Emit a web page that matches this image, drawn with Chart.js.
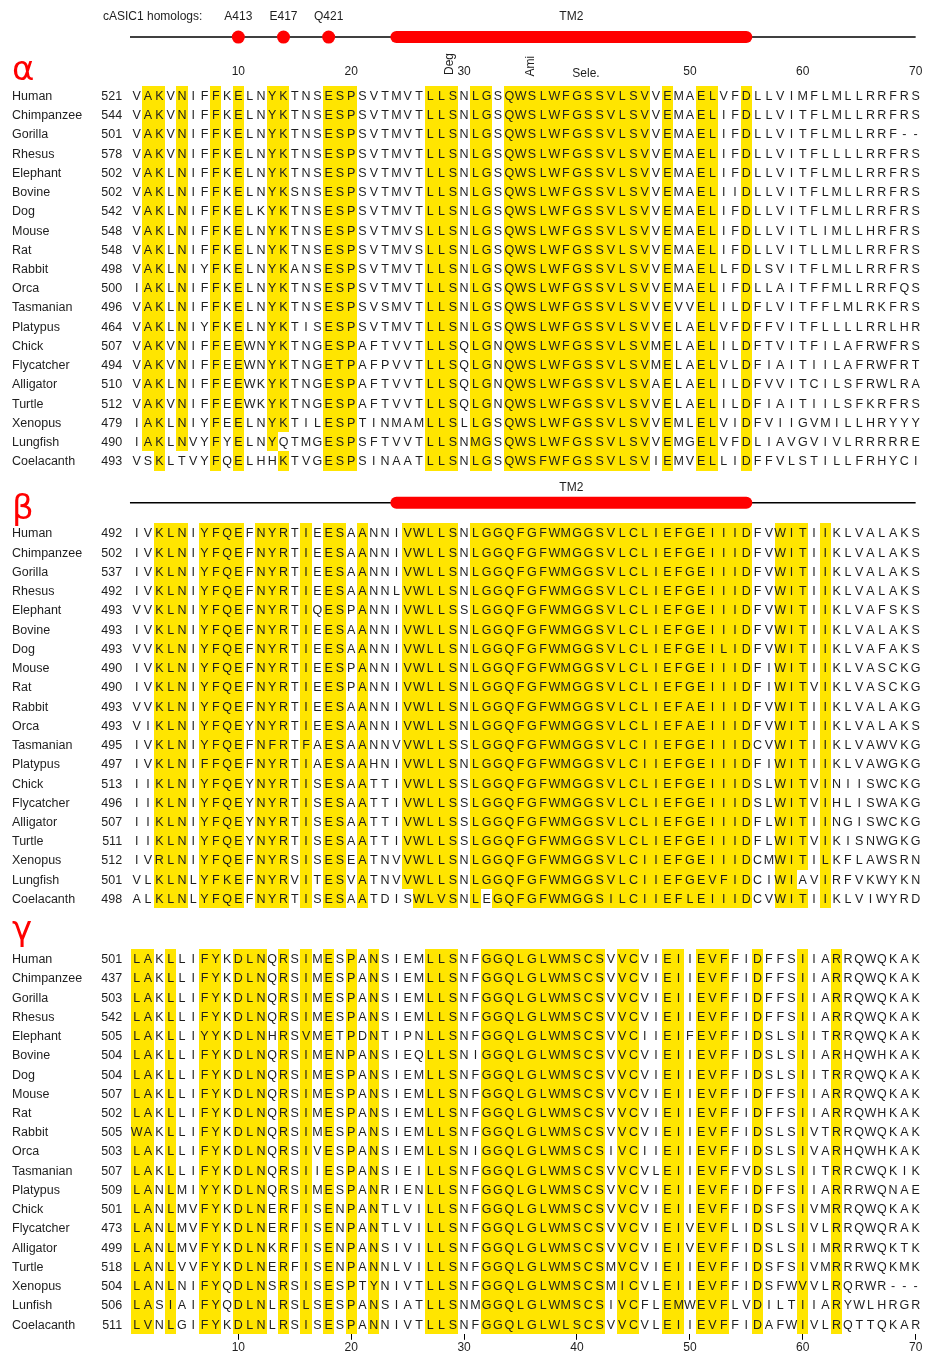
<!DOCTYPE html>
<html>
<head>
<meta charset="utf-8">
<title>ASIC TM2 alignment</title>
<script src="https://cdn.jsdelivr.net/npm/chart.js@4.4.1/dist/chart.umd.min.js"></script>
<style>
html,body{margin:0;padding:0;background:#fff;}
canvas{display:block;}
</style>
</head>
<body>
<canvas id="aln" width="925" height="1355"></canvas>
<script>
// species order is the same in all three blocks (gamma keeps the "Lunfish" spelling of the original)
const speciesAB = ['Human','Chimpanzee','Gorilla','Rhesus','Elephant','Bovine','Dog','Mouse','Rat','Rabbit',
  'Orca','Tasmanian','Platypus','Chick','Flycatcher','Alligator','Turtle','Xenopus','Lungfish','Coelacanth'];
const speciesG = ['Human','Chimpanzee','Gorilla','Rhesus','Elephant','Bovine','Dog','Mouse','Rat','Rabbit',
  'Orca','Tasmanian','Platypus','Chick','Flycatcher','Alligator','Turtle','Xenopus','Lunfish','Coelacanth'];

const alphaStart = [521,544,501,578,502,502,542,548,548,498,500,496,464,507,494,510,512,479,490,493];
const betaStart  = [492,502,537,492,493,493,493,490,490,493,493,495,497,513,496,507,511,512,501,498];
const gammaStart = [501,437,503,542,505,504,504,507,502,505,503,507,509,501,473,499,518,504,506,511];

const alphaSeq = [
  'VAKVNIFFKELNYKTNSESPSVTMVTLLSNLGSQWSLWFGSSVLSVVEMAELVFDLLVIMFLMLLRRFRS',
  'VAKVNIFFKELNYKTNSESPSVTMVTLLSNLGSQWSLWFGSSVLSVVEMAELIFDLLVITFLMLLRRFRS',
  'VAKVNIFFKELNYKTNSESPSVTMVTLLSNLGSQWSLWFGSSVLSVVEMAELIFDLLVITFLMLLRRF--',
  'VAKVNIFFKELNYKTNSESPSVTMVTLLSNLGSQWSLWFGSSVLSVVEMAELIFDLLVITFLLLLRRFRS',
  'VAKLNIFFKELNYKTNSESPSVTMVTLLSNLGSQWSLWFGSSVLSVVEMAELIFDLLVITFLMLLRRFRS',
  'VAKLNIFFKELNYKSNSESPSVTMVTLLSNLGSQWSLWFGSSVLSVVEMAELIIDLLVITFLMLLRRFRS',
  'VAKLNIFFKELKYKTNSESPSVTMVTLLSNLGSQWSLWFGSSVLSVVEMAELIFDLLVITFLMLLRRFRS',
  'VAKLNIFFKELNYKTNSESPSVTMVSLLSNLGSQWSLWFGSSVLSVVEMAELIFDLLVITLIMLLHRFRS',
  'VAKLNIFFKELNYKTNSESPSVTMVSLLSNLGSQWSLWFGSSVLSVVEMAELIFDLLVITLLMLLRRFRS',
  'VAKLNIYFKELNYKANSESPSVTMVTLLSNLGSQWSLWFGSSVLSVVEMAELLFDLSVITFLMLLRRFRS',
  'IAKLNIFFKELNYKTNSESPSVTMVTLLSNLGSQWSLWFGSSVLSVVEMAELIFDLLAITFFMLLRRFQS',
  'VAKLNIFFKELNYKTNSESPSVSMVTLLSNLGSQWSLWFGSSVLSVVEVVELILDFLVITFFLMLRKFRS',
  'VAKLNIYFKELNYKTISESPSVTMVTLLSNLGSQWSLWFGSSVLSVVELAELVFDFFVITFLLLLRRLHR',
  'VAKVNIFFEEWNYKTNGESPAFTVVTLLSQLGNQWSLWFGSSVLSVMELAELILDFTVITFILAFRWFRS',
  'VAKVNIFFEEWNYKTNGETPAFPVVTLLSQLGNQWSLWFGSSVLSVMELAELVLDFIAITIILAFRWFRT',
  'VAKLNIFFEEWKYKTNGESPAFTVVTLLSQLGNQWSLWFGSSVLSVAELAELILDFVVITCILSFRWLRA',
  'VAKVNIFFEEWKYKTNGESPAFTVVTLLSQLGNQWSLWFGSSVLSVVELAELILDFIAITIILSFKRFRS',
  'IAKLNIYFEELNYKTILESPTINMAMLLSLLGSQWSLWFGSSVLSVVEMLELVIDFVIIGVMILLHRYYY',
  'IAKLNVYFYELNYQTMGESPSFTVVTLLSNMGSQWSLWFGSSVLSVVEMGELVFDLIAVGVIVLRRRRRE',
  'VSKLTVYFQELHHKTVGESPSINAATLLSNLGSQWSFWFGSSVLSVIEMVELLIDFFVLSTILLFRHYCI'
];

const betaSeq = [
  'IVKLNIYFQEFNYRTIEESAANNIVWLLSNLGGQFGFWMGGSVLCLIEFGEIIIDFVWITIIKLVALAKS',
  'IVKLNIYFQEFNYRTIEESAANNIVWLLSNLGGQFGFWMGGSVLCLIEFGEIIIDFVWITIIKLVALAKS',
  'IVKLNIYFQEFNYRTIEESAANNIVWLLSNLGGQFGFWMGGSVLCLIEFGEIIIDFVWITIIKLVALAKS',
  'IVKLNIYFQEFNYRTIEESAANNLVWLLSNLGGQFGFWMGGSVLCLIEFGEIIIDFVWITIIKLVALAKS',
  'VVKLNIYFQEFNYRTIQESPANNIVWLLSSLGGQFGFWMGGSVLCLIEFGEIIIDFVWITIIKLVAFSKS',
  'IVKLNIYFQEFNYRTIEESAANNIVWLLSNLGGQFGFWMGGSVLCLIEFGEIIIDFVWITIIKLVALAKS',
  'VVKLNIYFQEFNYRTIEESAANNIVWLLSNLGGQFGFWMGGSVLCLIEFGEILIDFVWITIIKLVAFAKS',
  'IVKLNIYFQEFNYRTIEESPANNIVWLLSNLGGQFGFWMGGSVLCLIEFGEIIIDFIWITIIKLVASCKG',
  'IVKLNIYFQEFNYRTIEESPANNIVWLLSNLGGQFGFWMGGSVLCLIEFGEIIIDFIWITVIKLVASCKG',
  'VVKLNIYFQEFNYRTIEESAANNIVWLLSNLGGQFGFWMGGSVLCLIEFAEIIIDFVWITIIKLVALAKG',
  'VIKLNIYFQEYNYRTIEESAANNIVWLLSNLGGQFGFWMGGSVLCLIEFAEIIIDFVWITIIKLVALAKS',
  'IVKLNIYFQEFNFRTFAESAANNVVWLLSSLGGQFGFWMGGSVLCIIEFGEIIIDCVWITIIKLVAWVKG',
  'IVKLNIFFQEFNYRTIAESAAHNIVWLLSNLGGQFGFWMGGSVLCIIEFGEIIIDFIWITIIKLVAWGKG',
  'IIKLNIYFQEYNYRTISESAATTIVWLLSSLGGQFGFWMGGSVLCLIEFGEIIIDSLWITVINIISWCKG',
  'IIKLNIYFQEYNYRTISESAATTIVWLLSSLGGQFGFWMGGSVLCLIEFGEIIIDSLWITVIHLISWAKG',
  'IIKLNIYFQEYNYRTISESAATTIVWLLSSLGGQFGFWMGGSVLCLIEFGEIIIDFLWITIINGISWCKG',
  'IIKLNIYFQEYNYRTISESAATTIVWLLSSLGGQFGFWMGGSVLCLIEFGEIIIDFLWITVIKISNWGKG',
  'IVRLNIYFQEFNYRSISESEATNVVWLLSNLGGQFGFWMGGSVLCIIEFGEIIIDCMWITILKFLAWSRN',
  'VLKLNLYFKEFNYRVITESVATNVVWLLSNLGGQFGFWMGGSVLCIIEFGEVFIDCIWIAVIRFVKWYKN',
  'ALKLNLYFQEFNYRTISESAATDISWLVSNLEGQFGFWMGGSILCIIEFLEIIIDCVWITIIKLVIWYRD'
];

const gammaSeq = [
  'LAKLLIFYKDLNQRSIMESPANSIEMLLSNFGGQLGLWMSCSVVCVIEIIEVFFIDFFSIIARRQWQKAK',
  'LAKLLIFYKDLNQRSIMESPANSIEMLLSNFGGQLGLWMSCSVVCVIEIIEVFFIDFFSIIARRQWQKAK',
  'LAKLLIFYKDLNQRSIMESPANSIEMLLSNFGGQLGLWMSCSVVCVIEIIEVFFIDFFSIIARRQWQKAK',
  'LAKLLIFYKDLNQRSIMESPANSIEMLLSNFGGQLGLWMSCSVVCVIEIIEVFFIDFFSIIARRQWQKAK',
  'LAKLLIYYKDLNHRSVMETPDNTIPNLLSNFGGQLGLWMSCSVVCIIEIFEVFFIDSLSIITRRQWQKAK',
  'LAKLLIFYKDLNQRSIMENPANSIEQLLSNIGGQLGLWMSCSVVCVIEIIEVFFIDSLSIIARHQWHKAK',
  'LAKLLIFYKDLNQRSIMESPANSIEMLLSNFGGQLGLWMSCSVVCVIEIIEVFFIDSLSIITRRQWQKAK',
  'LAKLLIFYKDLNQRSIMESPANSIEMLLSNFGGQLGLWMSCSVVCVIEIIEVFFIDFFSIIARRQWQKAK',
  'LAKLLIFYKDLNQRSIMESPANSIEMLLSNFGGQLGLWMSCSVVCVIEIIEVFFIDFFSIIARRQWHKAK',
  'WAKLLIFYKDLNQRSIMESPANSIEMLLSNFGGQLGLWMSCSVVCVIEIIEVFFIDSLSIVTRRQWQKAK',
  'LAKLLIFYKDLNQRSIVESPANSIEMLLSNIGGQLGLWMSCSIVCIIEIIEVFFIDSLSIVARHQWHKAK',
  'LAKLLIFYKDLNQRSIIESPANSIEILLSNFGGQLGLWMSCSVVCVLEIIEVFFVDSLSIITRRCWQKIK',
  'LANLMIYYKDLNQRSIMESPANRIENLLSNFGGQLGLWMSCSVVCVIEIIEVFFIDFFSIIARRRWQNAE',
  'LANLMVFYKDLNERFISENPANTLVILLSNFGGQLGLWMSCSVVCVIEIIEVFFIDSFSIVMRRQWQKAK',
  'LANLMVFYKDLNERFISENPANTLVILLSNFGGQLGLWMSCSVVCVIEIVEVFLIDSLSIVLRRQWQRAK',
  'LANLMVFYKDLNKRFISENPANSIVILLSNFGGQLGLWMSCSVVCVIEIVEVFFIDSLSIIMRRRWQKTK',
  'LANLVVFYKDLNERFISENPANNLVILLSNFGGQLGLWMSCSMVCVIEIIEVFFIDSFSIVMRRRWQKMK',
  'LANLNIFYQDLNSRSISESPTYNIVTLLSNFGGQLGLWMSCSMICVLEIIEVFFIDSFWVVLRQRWR---',
  'LASIAIFYQDLNLRSLSESPANSIATLLSNMGGQLGLWMSCSIVCFLEMWEVFLVDILTIIARYWLHRGR',
  'LVNLGIFYKDLNLRSISESPANNIVTLLSNFGGQLGLWLSCSVVCVLEIIEVFFIDAFWIVLRQTTQKAR'
];

// shaded (conserved) columns, and cells inside them that stay white [row, column]
const alphaCols = [2,3,5,8,10,13,14,18,19,20,27,28,29,31,32,34,35,36,37,38,39,40,41,42,43,44,45,46,48,51,52,55];
const betaCols  = [3,4,5,7,8,9,10,12,13,14,16,18,19,21,25,26,27,28,29,31,32,33,34,35,36,37,38,39,40,41,42,43,
  44,45,46,47,48,49,50,51,52,53,54,55,58,59,60,62];
const gammaCols = [1,2,4,7,8,10,11,12,14,16,18,20,22,27,28,29,32,33,34,35,36,37,38,39,40,41,42,44,45,48,49,
  51,52,53,56,60,63];
const alphaWhite = [[19,2],[19,5],[19,13],[18,14]];
const betaWhite  = [[19,25],[19,32],[18,60]];
const gammaWhite = [];

// position ruler and cASIC1 annotations
const tickLabels = [10,20,30,40,50,60,70];
const topTicks   = [10,20,30,50,60,70];
const siteNames  = ['A413','E417','Q421'];
const siteCols   = [10,14,18];
const tm2Cols    = [24,55];

const panels = [
  {sym:'α', names:speciesAB, start:alphaStart, seq:alphaSeq, cols:alphaCols, white:alphaWhite, top:0,     symY:-0.31},
  {sym:'β', names:speciesAB, start:betaStart,  seq:betaSeq,  cols:betaCols,  white:betaWhite,  top:22.75, symY:-0.25},
  {sym:'γ', names:speciesG,  start:gammaStart, seq:gammaSeq, cols:gammaCols, white:gammaWhite, top:44.88, symY:-0.46}
];

const FONT = "'Liberation Sans', Arial, sans-serif";
const YELLOW = '#ffe500';
const RED = '#ff0000';
const INK = '#1e1e1e';

function drawTM2(ctx, x, yy, withSites) {
  ctx.strokeStyle = '#000';
  ctx.lineWidth = 1.5;
  ctx.beginPath();
  ctx.moveTo(x.getPixelForValue(0.4), yy);
  ctx.lineTo(x.getPixelForValue(70), yy);
  ctx.stroke();
  ctx.strokeStyle = RED;
  ctx.lineWidth = 12;
  ctx.lineCap = 'round';
  ctx.beginPath();
  ctx.moveTo(x.getPixelForValue(tm2Cols[0]), yy);
  ctx.lineTo(x.getPixelForValue(tm2Cols[1]), yy);
  ctx.stroke();
  ctx.lineCap = 'butt';
  if (withSites) {
    ctx.fillStyle = RED;
    siteCols.forEach(c => {
      ctx.beginPath();
      ctx.arc(x.getPixelForValue(c), yy, 6.5, 0, Math.PI * 2);
      ctx.fill();
    });
  }
}

const alignment = {
  id: 'alignment',
  afterDraw(chart) {
    const ctx = chart.ctx;
    const x = chart.scales.x, y = chart.scales.y;
    const left = chart.chartArea.left;
    ctx.save();

    panels.forEach((p, k) => {
      // yellow shading
      ctx.fillStyle = YELLOW;
      p.seq.forEach((s, r) => {
        const y0 = Math.round(y.getPixelForValue(p.top + r));
        const y1 = Math.round(y.getPixelForValue(p.top + r + 1));
        p.cols.forEach(c => {
          if (p.white.some(w => w[0] === r && w[1] === c)) return;
          const x0 = Math.round(x.getPixelForValue(c - 0.5));
          const x1 = Math.round(x.getPixelForValue(c + 0.5));
          ctx.fillRect(x0, y0, x1 - x0, y1 - y0);
        });
      });

      // residues, species names, start numbers
      ctx.fillStyle = INK;
      ctx.font = '12.5px ' + FONT;
      ctx.textBaseline = 'alphabetic';
      p.seq.forEach((s, r) => {
        const yc = y.getPixelForValue(p.top + r + 0.5) + 4.4;
        ctx.textAlign = 'center';
        for (let i = 0; i < s.length; i++) {
          ctx.fillText(s[i], x.getPixelForValue(i + 1), yc);
        }
        ctx.textAlign = 'left';
        ctx.fillText(p.names[r], 12, yc);
        ctx.textAlign = 'right';
        ctx.fillText(String(p.start[r]), left - 9, yc);
      });

      // panel symbol
      ctx.fillStyle = RED;
      ctx.font = "34px 'DejaVu Sans', sans-serif";
      ctx.textAlign = 'left';
      ctx.fillText(p.sym, 12, y.getPixelForValue(p.top + p.symY));
    });

    // alpha header: cASIC1 sites, TM2 bar, ruler numbers
    const a = panels[0].top;
    ctx.font = '12px ' + FONT;
    ctx.fillStyle = INK;
    ctx.textAlign = 'left';
    ctx.fillText('cASIC1 homologs:', 103, y.getPixelForValue(a - 3.41));
    ctx.textAlign = 'center';
    siteNames.forEach((n, i) => ctx.fillText(n, x.getPixelForValue(siteCols[i]), y.getPixelForValue(a - 3.41)));
    ctx.fillText('TM2', x.getPixelForValue((tm2Cols[0] + tm2Cols[1]) / 2), y.getPixelForValue(a - 3.41));
    drawTM2(ctx, x, y.getPixelForValue(a - 2.54), true);

    ctx.fillStyle = INK;
    ctx.font = '12px ' + FONT;
    ctx.textAlign = 'center';
    topTicks.forEach(v => ctx.fillText(String(v), x.getPixelForValue(v), y.getPixelForValue(a - 0.59)));
    ctx.fillText('Sele.', x.getPixelForValue(40.8), y.getPixelForValue(a - 0.46));
    [['Deg', 28.75, -1.14], ['Ami', 35.9, -1.03]].forEach(([t, c, v]) => {
      ctx.save();
      ctx.translate(x.getPixelForValue(c), y.getPixelForValue(a + v));
      ctx.rotate(-Math.PI / 2);
      ctx.textBaseline = 'middle';
      ctx.fillText(t, 0, 0);
      ctx.restore();
    });

    // beta header
    const b = panels[1].top;
    ctx.fillStyle = INK;
    ctx.fillText('TM2', x.getPixelForValue((tm2Cols[0] + tm2Cols[1]) / 2), y.getPixelForValue(b - 1.71));
    drawTM2(ctx, x, y.getPixelForValue(b - 1.08), false);

    ctx.restore();
  }
};

Chart.defaults.font.family = FONT;

new Chart(document.getElementById('aln'), {
  type: 'scatter',
  data: { datasets: [] },
  options: {
    responsive: false,
    animation: false,
    events: [],
    layout: { padding: { top: 85.9, left: 131.1, right: 3.7, bottom: 0 } },
    plugins: { legend: { display: false }, tooltip: { enabled: false } },
    scales: {
      x: {
        type: 'linear',
        min: 0.5,
        max: 70.5,
        position: 'bottom',
        afterBuildTicks: s => { s.ticks = tickLabels.map(v => ({ value: v })); },
        grid: { drawOnChartArea: false, drawTicks: true, tickLength: 6, color: '#000', lineWidth: 1 },
        border: { display: false },
        ticks: { padding: 1, color: INK, font: { size: 12, lineHeight: 1.1 }, maxRotation: 0, autoSkip: false }
      },
      y: { type: 'linear', min: 0, max: 64.88, reverse: true, display: false }
    }
  },
  plugins: [alignment]
});
</script>
</body>
</html>
